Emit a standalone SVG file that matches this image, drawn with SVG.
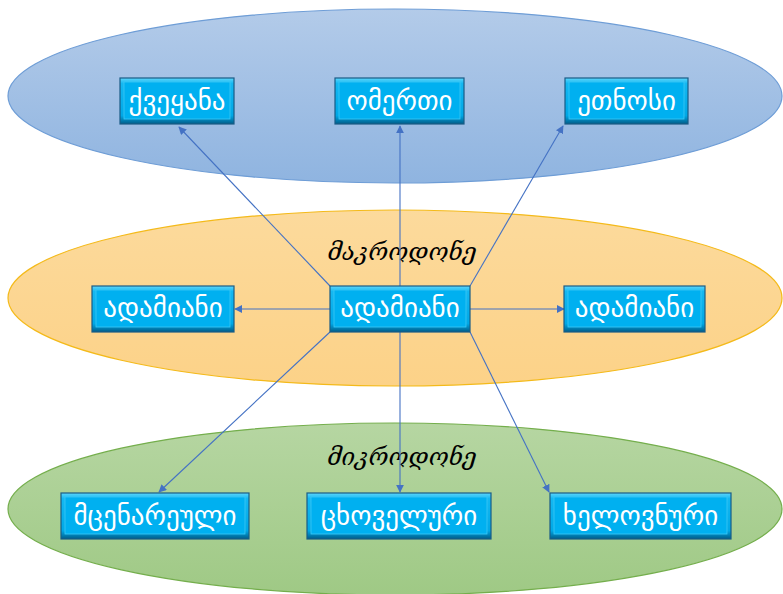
<svg xmlns="http://www.w3.org/2000/svg" width="783" height="594" viewBox="0 0 783 594">
<defs>
<linearGradient id="gBlue" x1="0" y1="0" x2="0" y2="1"><stop offset="0" stop-color="#B3CBE9"/><stop offset="1" stop-color="#8FB4E0"/></linearGradient>
<linearGradient id="gOrange" x1="0" y1="0" x2="0" y2="1"><stop offset="0" stop-color="#FCDA9C"/><stop offset="1" stop-color="#FCD288"/></linearGradient>
<linearGradient id="gGreen" x1="0" y1="0" x2="0" y2="1"><stop offset="0" stop-color="#B6D6A2"/><stop offset="1" stop-color="#9FC985"/></linearGradient>
<linearGradient id="bev" x1="0" y1="0" x2="0" y2="1"><stop offset="0" stop-color="#5FD6FB"/><stop offset="0.12" stop-color="#14B8F2"/><stop offset="0.82" stop-color="#00A8E6"/><stop offset="1" stop-color="#005C88"/></linearGradient>
<marker id="ah" viewBox="0 0 10 10" refX="9" refY="5" markerWidth="8" markerHeight="8" markerUnits="userSpaceOnUse" orient="auto"><path d="M0,0 L10,5 L0,10 z" fill="#4472C4"/></marker>
<style>
.box{fill:url(#bev);stroke:#1A5C86;stroke-width:1.2}
.inner{fill:#00B0F0;stroke:#3CC8F5;stroke-width:0.8}
.bt{font-family:"DejaVu Sans",sans-serif;font-size:27px;fill:#FFFFFF;text-anchor:middle}
.lbl{font-family:"DejaVu Serif",serif;font-style:italic;font-size:24px;fill:#000000;text-anchor:middle}
.con line{stroke:#4472C4;stroke-width:1.1;marker-end:url(#ah)}
</style>
</defs>
<g id="ellipses">
<ellipse id="macro-blue" cx="395" cy="96" rx="387" ry="87" fill="url(#gBlue)" stroke="#6E9DD6" stroke-width="1.2"/>
<ellipse id="macro-orange" cx="395" cy="298" rx="387" ry="88" fill="url(#gOrange)" stroke="#F4BA1A" stroke-width="1.2"/>
<ellipse id="micro-green" cx="395" cy="509" rx="387" ry="86" fill="url(#gGreen)" stroke="#74AE4C" stroke-width="1.2"/>
</g>
<g id="labels">
<text class="lbl" x="402" y="260">მაკროდონე</text>
<text class="lbl" x="402" y="465">მიკროდონე</text>
</g>
<g id="connectors" class="con">
<line x1="330" y1="286" x2="179" y2="127"/>
<line x1="400" y1="286" x2="400" y2="126"/>
<line x1="470" y1="286" x2="563" y2="126"/>
<line x1="330" y1="309" x2="235" y2="309"/>
<line x1="470" y1="309" x2="564" y2="309"/>
<line x1="330" y1="332" x2="159" y2="492"/>
<line x1="400" y1="332" x2="400" y2="492"/>
<line x1="470" y1="332" x2="549" y2="492"/>
</g>
<g id="n-kveyana"><rect class="box" x="120" y="78" width="114" height="46"/><rect class="inner" x="124" y="82" width="106" height="37"/><text class="bt" x="177" y="110">ქვეყანა</text></g>
<g id="n-omerti"><rect class="box" x="335" y="78" width="129" height="46"/><rect class="inner" x="339" y="82" width="121" height="37"/><text class="bt" x="399.5" y="110">ომერთი</text></g>
<g id="n-etnosi"><rect class="box" x="565" y="78" width="123" height="46"/><rect class="inner" x="569" y="82" width="115" height="37"/><text class="bt" x="626.5" y="110">ეთნოსი</text></g>
<g id="n-adamiani-left"><rect class="box" x="92" y="286" width="142" height="46"/><rect class="inner" x="96" y="290" width="134" height="37"/><text class="bt" x="163" y="317">ადამიანი</text></g>
<g id="n-adamiani-center"><rect class="box" x="330" y="286" width="140" height="46"/><rect class="inner" x="334" y="290" width="132" height="37"/><text class="bt" x="400" y="317">ადამიანი</text></g>
<g id="n-adamiani-right"><rect class="box" x="564" y="286" width="141" height="46"/><rect class="inner" x="568" y="290" width="133" height="37"/><text class="bt" x="634.5" y="317">ადამიანი</text></g>
<g id="n-mcenareuli"><rect class="box" x="61" y="493" width="188" height="46"/><rect class="inner" x="65" y="497" width="180" height="37"/><text class="bt" x="155" y="525">მცენარეული</text></g>
<g id="n-cxoveluri"><rect class="box" x="307" y="493" width="184" height="46"/><rect class="inner" x="311" y="497" width="176" height="37"/><text class="bt" x="399" y="525">ცხოველური</text></g>
<g id="n-xelovnuri"><rect class="box" x="550" y="493" width="181" height="46"/><rect class="inner" x="554" y="497" width="173" height="37"/><text class="bt" x="640.5" y="525">ხელოვნური</text></g>
</svg>
